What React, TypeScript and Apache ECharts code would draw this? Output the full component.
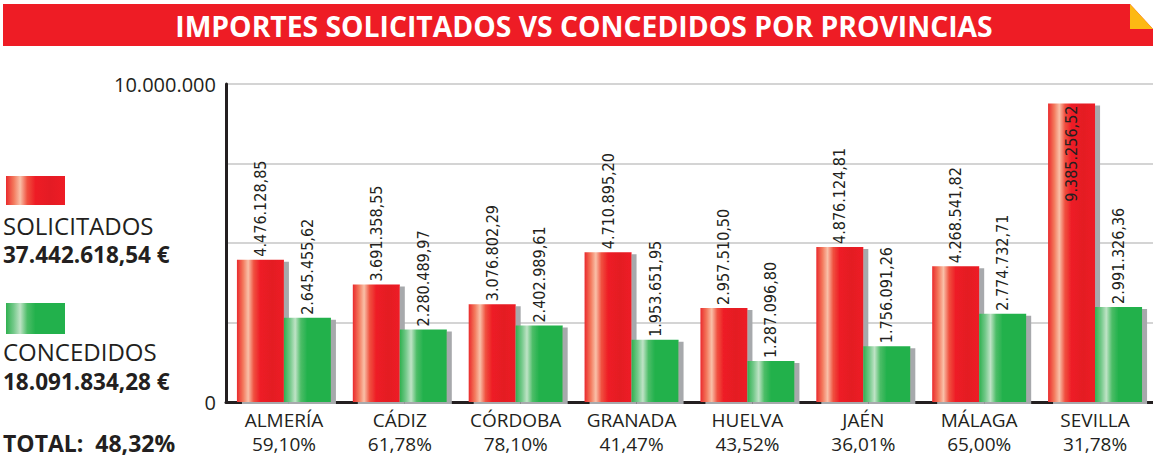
import React, { useEffect, useRef } from "react";
import * as echarts from "echarts";

const categories = ["ALMERÍA", "CÁDIZ", "CÓRDOBA", "GRANADA", "HUELVA", "JAÉN", "MÁLAGA", "SEVILLA"];
const percents = ["59,10%", "61,78%", "78,10%", "41,47%", "43,52%", "36,01%", "65,00%", "31,78%"];
const solicitados = [4476128.85, 3691358.55, 3076802.29, 4710895.2, 2957510.5, 4876124.81, 4268541.82, 9385256.52];
const concedidos = [2645455.62, 2280489.97, 2402989.61, 1953651.95, 1287096.8, 1756091.26, 2774732.71, 2991326.36];
const yTicks = [0, 10000000];
const titleText = "IMPORTES SOLICITADOS VS CONCEDIDOS POR PROVINCIAS";
const legendNames = ["SOLICITADOS", "CONCEDIDOS"];
const legendTotals = ["37.442.618,54 €", "18.091.834,28 €"];
const totalText = "TOTAL:  48,32%";

const fmt = (v: number) => {
  const [i, d] = v.toFixed(2).split(".");
  return i.replace(/\B(?=(\d{3})+(?!\d))/g, ".") + "," + d;
};

const redGrad = () =>
  new echarts.graphic.LinearGradient(0, 0, 1, 0, [
    { offset: 0, color: "#ea2a2c" },
    { offset: 0.13, color: "#f3785c" },
    { offset: 0.24, color: "#f9c0a8" },
    { offset: 0.36, color: "#f0503f" },
    { offset: 0.5, color: "#ee1c25" },
    { offset: 0.75, color: "#e41b24" },
    { offset: 1, color: "#ee1c25" },
  ]);
const greenGrad = () =>
  new echarts.graphic.LinearGradient(0, 0, 1, 0, [
    { offset: 0, color: "#2fb04f" },
    { offset: 0.13, color: "#74c98a" },
    { offset: 0.24, color: "#bfe3c6" },
    { offset: 0.36, color: "#4cbd67" },
    { offset: 0.5, color: "#22b14c" },
    { offset: 1, color: "#22b14c" },
  ]);

const labelFont = "'Liberation Sans Narrow', 'DejaVu Sans Condensed', 'Open Sans', sans-serif";
const mainFont = "'Open Sans', 'Noto Sans', sans-serif";

export default function App() {
  const ref = useRef<HTMLDivElement>(null);
  useEffect(() => {
    if (!ref.current) return;
    const chart = echarts.init(ref.current, null, { renderer: "svg" });
    const barLabel = {
      show: true,
      position: "top",
      rotate: 90,
      align: "left",
      verticalAlign: "middle",
      distance: 3,
      color: "#231f20",
      fontFamily: labelFont,
      fontSize: 16,
      formatter: (p: any) => fmt(p.value),
    };
    const shadow = {
      shadowColor: "#a7a9ac",
      shadowBlur: 0,
      shadowOffsetX: 5,
      shadowOffsetY: 2,
    };
    chart.setOption({
      animation: false,
      grid: { left: 226, right: 0, top: 84, bottom: 58, containLabel: false },
      xAxis: {
        type: "category",
        data: categories,
        axisLine: { show: true, lineStyle: { color: "#231f20", width: 3 } },
        axisTick: { show: false },
        axisLabel: {
          interval: 0,
          margin: 6,
          color: "#231f20",
          fontFamily: mainFont,
          fontSize: 19,
          lineHeight: 24,
          formatter: (v: string) => {
            const i = categories.indexOf(v);
            return v + "\n" + percents[i];
          },
        },
      },
      yAxis: {
        type: "value",
        min: 0,
        max: 10000000,
        interval: 2500000,
        axisLine: { show: true, lineStyle: { color: "#231f20", width: 3 } },
        axisTick: { show: false },
        splitLine: { lineStyle: { color: "#c6c6c6", width: 1.5 } },
        axisLabel: {
          margin: 10,
          color: "#231f20",
          fontFamily: mainFont,
          fontSize: 20,
          formatter: (v: number) => (yTicks.includes(v) ? v.toLocaleString("de-DE") : ""),
        },
      },
      series: [
        {
          type: "bar",
          name: legendNames[0],
          data: solicitados.map((v, i) =>
            i === 7
              ? { value: v, label: { position: "insideTop", align: "right", distance: 2 } }
              : v
          ),
          barWidth: 47,
          barGap: "0%",
          itemStyle: { color: redGrad(), ...shadow },
          label: barLabel,
        },
        {
          type: "bar",
          name: legendNames[1],
          data: concedidos,
          barWidth: 47,
          barGap: "0%",
          itemStyle: { color: greenGrad(), ...shadow },
          label: barLabel,
        },
      ],
      graphic: [
        { type: "rect", shape: { x: 3, y: 4, width: 1150, height: 42 }, style: { fill: "#ee1c25" } },
        { type: "polygon", shape: { points: [[1130, 4], [1153, 4], [1153, 29]] }, style: { fill: "#ffffff" } },
        { type: "polygon", shape: { points: [[1130, 4], [1130, 29], [1153, 29]] }, style: { fill: "#fdb913" } },
        {
          type: "text",
          x: 584,
          y: 26,
          style: {
            text: titleText,
            fill: "#ffffff",
            font: "bold 28.3px " + mainFont,
            align: "center",
            verticalAlign: "middle",
          },
        },
        { type: "rect", shape: { x: 6, y: 176, width: 59, height: 29 }, style: { fill: redGrad() } },
        { type: "text", x: 3, y: 225, style: { text: legendNames[0], fill: "#231f20", font: "24px " + mainFont, verticalAlign: "middle" } },
        { type: "text", x: 3, y: 254, style: { text: legendTotals[0], fill: "#231f20", font: "bold 22.5px " + mainFont, verticalAlign: "middle" } },
        { type: "rect", shape: { x: 6, y: 303, width: 59, height: 31 }, style: { fill: greenGrad() } },
        { type: "text", x: 3, y: 351, style: { text: legendNames[1], fill: "#231f20", font: "24px " + mainFont, verticalAlign: "middle" } },
        { type: "text", x: 3, y: 381, style: { text: legendTotals[1], fill: "#231f20", font: "bold 22.5px " + mainFont, verticalAlign: "middle" } },
        { type: "text", x: 3, y: 443, style: { text: totalText, fill: "#231f20", font: "bold 23px " + mainFont, verticalAlign: "middle" } },
      ],
    });
    return () => chart.dispose();
  }, []);
  return <div ref={ref} style={{ width: 1153, height: 460, position: "absolute", left: 0, top: 0 }} />;
}
